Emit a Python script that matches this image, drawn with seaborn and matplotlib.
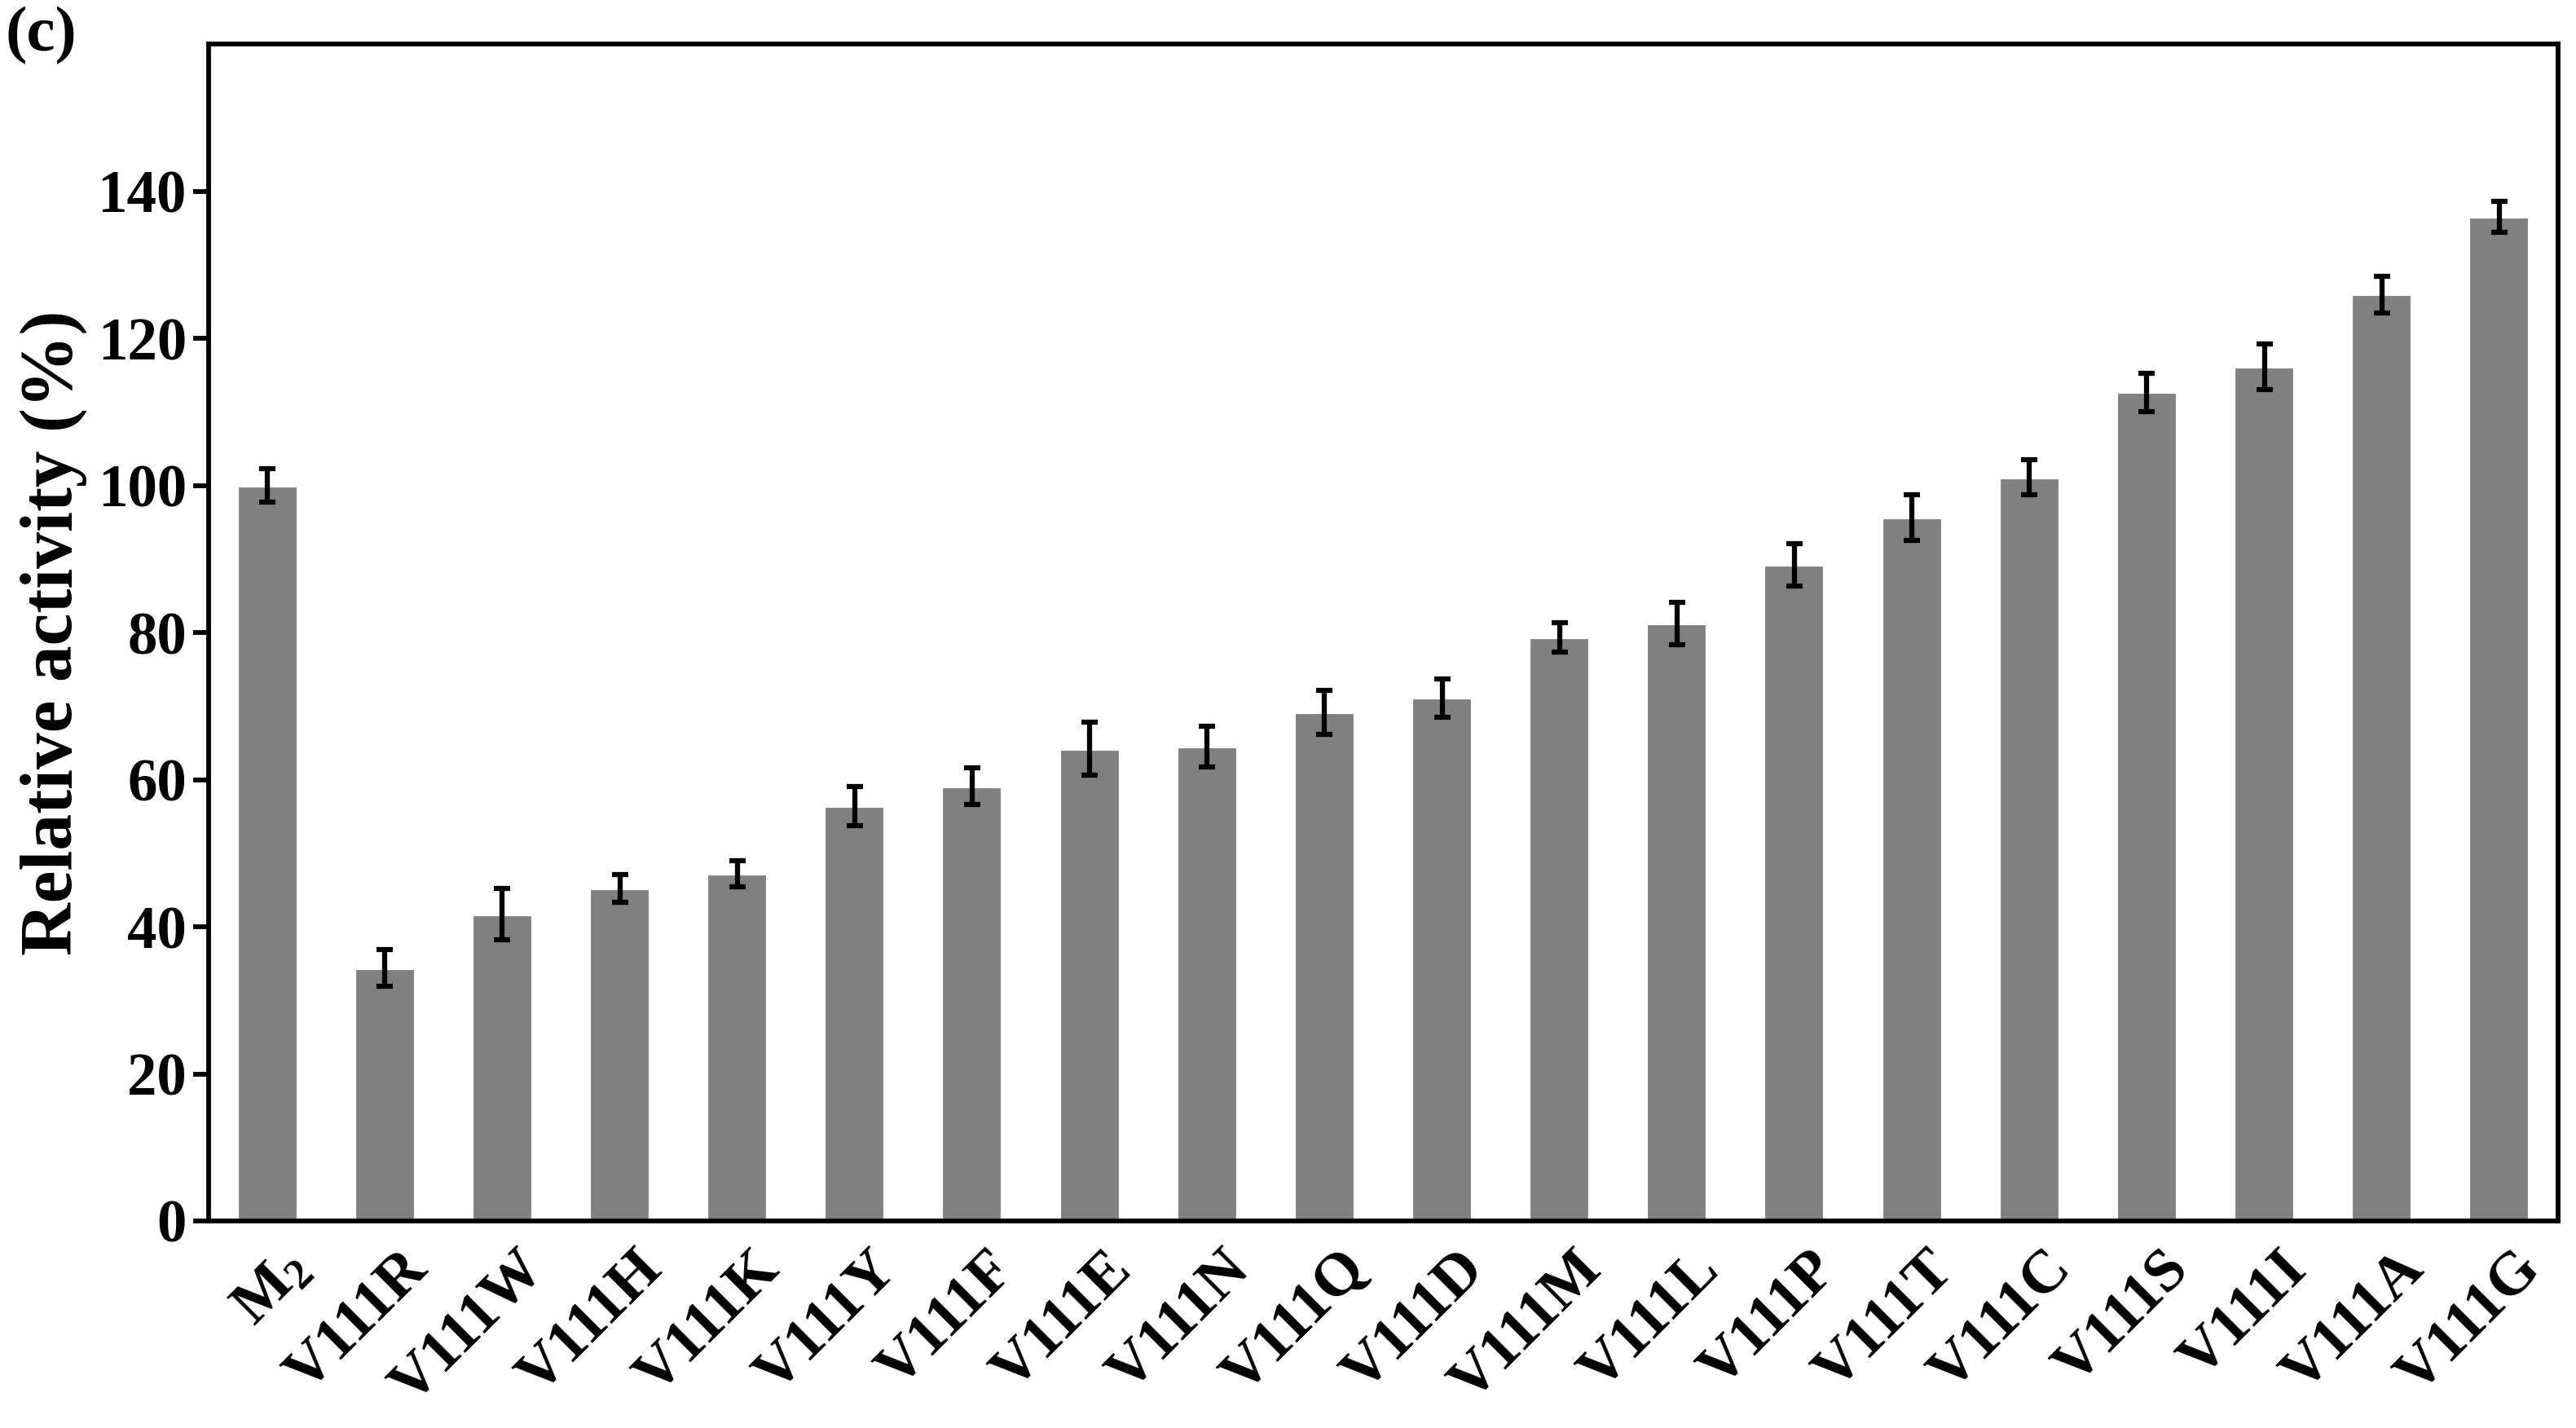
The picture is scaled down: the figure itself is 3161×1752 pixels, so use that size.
import matplotlib
matplotlib.use("Agg")
import matplotlib.pyplot as plt
import matplotlib.transforms as mtransforms
import seaborn as sns
import pandas as pd

variants = ["$\\mathbf{M_2}$", "V111R", "V111W", "V111H", "V111K", "V111Y", "V111F", "V111E",
            "V111N", "V111Q", "V111D", "V111M", "V111L", "V111P", "V111T", "V111C",
            "V111S", "V111I", "V111A", "V111G"]
activity = [100.0, 34.4, 41.7, 45.2, 47.2, 56.4, 59.1, 64.2, 64.5, 69.2,
            71.1, 79.3, 81.2, 89.2, 95.6, 101.1, 112.7, 116.1, 126.0, 136.5]
err = [2.3, 2.5, 3.5, 1.9, 1.8, 2.7, 2.5, 3.6, 2.8, 3.0,
       2.6, 2.0, 2.9, 2.9, 3.1, 2.4, 2.6, 3.1, 2.5, 2.1]

df = pd.DataFrame({"variant": variants, "activity": activity})

sns.set_style("ticks")
FONT = "Liberation Serif"
plt.rcParams["font.family"] = FONT
plt.rcParams["font.weight"] = "bold"
plt.rcParams["mathtext.fontset"] = "custom"
plt.rcParams["mathtext.rm"] = FONT + ":bold"
plt.rcParams["mathtext.bf"] = FONT + ":bold"
for key in ["text.color", "axes.labelcolor", "xtick.color", "ytick.color", "axes.edgecolor"]:
    plt.rcParams[key] = "black"

fig = plt.figure(figsize=(3161 / 300, 1752 / 300), dpi=300)
ax = fig.add_axes([0.081, 0.145, 0.912, 0.824])

sns.barplot(data=df, x="variant", y="activity", color="#808080", saturation=1,
            width=0.52, errorbar=None, ax=ax)
ax.errorbar(range(len(variants)), activity, yerr=err, fmt="none", ecolor="black",
            elinewidth=1.5, capsize=2.4, capthick=1.5)

ax.set_xlim(-0.5, len(variants) - 0.5)
ax.set_ylim(0, 160)
ax.set_yticks(range(0, 141, 20))
ax.set_xlabel("")
ax.set_ylabel("Relative activity (%)", fontsize=21.5, fontweight="bold",
              family=FONT, labelpad=3)

for side in ["top", "right", "left", "bottom"]:
    ax.spines[side].set_visible(True)
    ax.spines[side].set_linewidth(1.4)
    ax.spines[side].set_color("black")

ax.tick_params(axis="y", direction="out", length=4.5, width=1.4, labelsize=17.5, pad=2)
ax.tick_params(axis="x", length=0, labelsize=18, pad=6)
shift = mtransforms.ScaledTranslation(4 / 72, 0, fig.dpi_scale_trans)
for lbl in ax.get_xticklabels():
    lbl.set_rotation(45)
    lbl.set_ha("right")
    lbl.set_rotation_mode("anchor")
    lbl.set_fontweight("bold")
    lbl.set_family(FONT)
    lbl.set_transform(lbl.get_transform() + shift)
plt.setp(ax.get_yticklabels(), fontweight="bold", family=FONT)

fig.text(0.002, 0.975, "(c)", fontsize=19, fontweight="bold", family=FONT,
         va="center", ha="left")

fig.savefig("out.png", dpi=300)
